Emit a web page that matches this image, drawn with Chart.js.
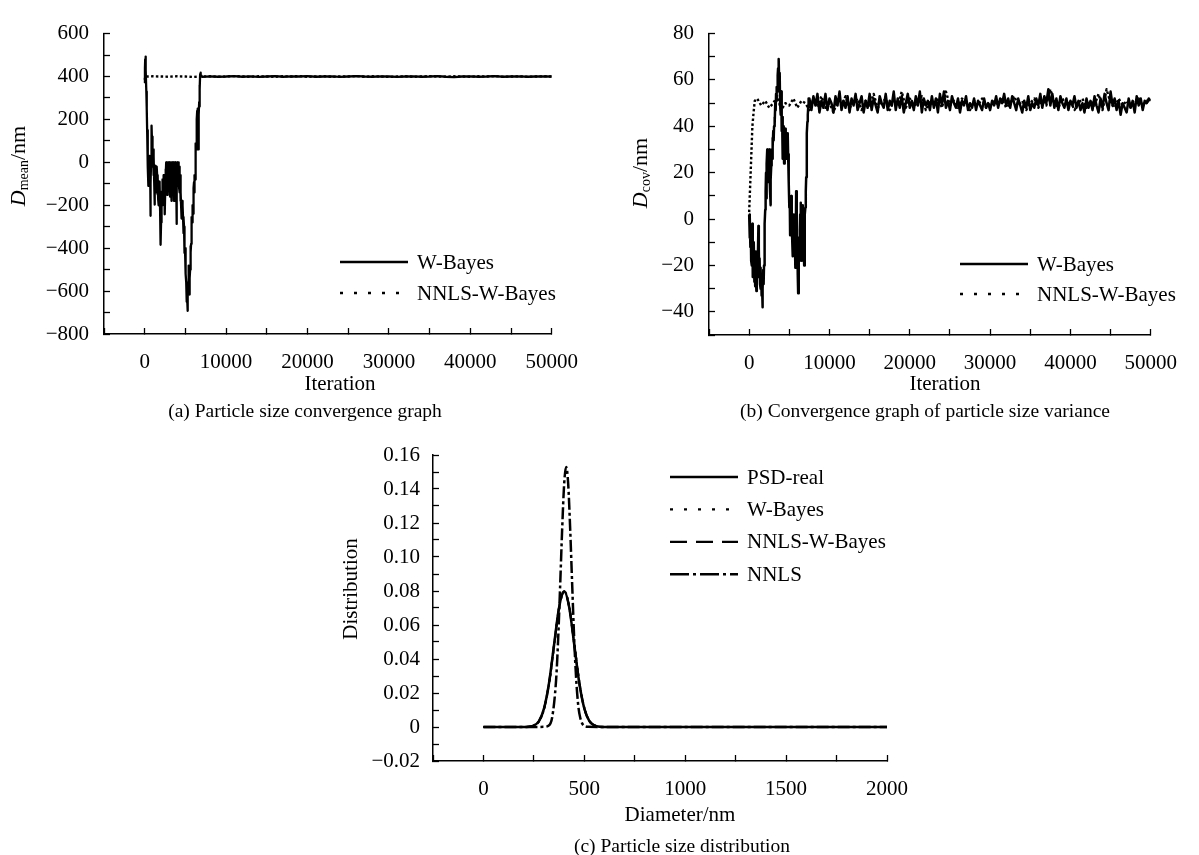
<!DOCTYPE html>
<html>
<head>
<meta charset="utf-8">
<script src="https://cdn.jsdelivr.net/npm/chart.js@4.4.1/dist/chart.umd.min.js"></script>
<style>
  body { margin: 0; background: #fff; width: 1199px; height: 855px; position: relative; overflow: hidden; font-family: "Liberation Serif", serif; }
  canvas { position: absolute; }
  .cap { position: absolute; font-size: 19.5px; color: #000; white-space: nowrap; transform: translate(-50%, -50%); }
</style>
</head>
<body>
<canvas id="chartA" width="600" height="400" style="left:0;top:0"></canvas>
<canvas id="chartB" width="599" height="400" style="left:600px;top:0"></canvas>
<canvas id="chartC" width="600" height="435" style="left:330px;top:420px"></canvas>
<div class="cap" style="left:305px;top:411px">(a) Particle size convergence graph</div>
<div class="cap" style="left:925px;top:411px">(b) Convergence graph of particle size variance</div>
<div class="cap" style="left:682px;top:846px">(c) Particle size distribution</div>
<script>
// ---- (a) mean diameter vs iteration ----
// first iterations (irregular spacing)
const iterAHead = [0, 30, 60, 90, 120, 150, 200, 250, 300, 350, 400, 450];
const meanWBayesHead = [370, 440, 480, 493, 470, 430, 330, 250, 150, 60, -20, -110];
// oscillating phase, one reading every 30 iterations from 480 to 6810
const denseStartA = 480, denseStepA = 30;
const meanWBayesDense = [
  -20, 20, -80, -30, -60, 30, 10, -249, -150, -100,
  0, 80, 20, 171, 90, 120, 40, -20, 60, 43,
  -30, -60, 30, -100, -60, -197, -80, -17, -100, -130,
  -40, -60, -140, -107, -20, -60, -150, -90, -60, -170,
  -200, -110, -140, -90, -190, -170, -100, -220, -300, -200,
  -384, -280, -250, -137, -180, -200, -110, -80, -170, -150,
  -60, -120, -180, -100, -60, -170, -130, -242, -130, -32,
  -110, -60, 0, -120, -40, 0, -152, -60, 0, -90,
  -20, 0, -135, -30, 0, -100, -10, 0, -160, -50,
  0, -80, -120, 0, -60, -180, -20, 0, -140, -40,
  0, -100, -60, 0, -180, -90, 0, -110, -30, 0,
  -130, -20, 0, -90, -160, -287, -60, 0, -110, -30,
  0, -90, -20, 0, -70, -120, -60, -20, -140, -60,
  -100, -180, -140, -200, -262, -220, -250, -180, -255, -240,
  -200, -260, -255, -330, -260, -300, -380, -330, -422, -400,
  -440, -481, -460, -520, -560, -600, -580, -650, -640, -692,
  -670, -620, -560, -500, -481, -520, -580, -616, -590, -540,
  -500, -460, -391, -420, -380, -300, -340, -255, -280, -240,
  -255, -200, -240, -160, -200, -120, -92, -140, -110, -60,
  -80, -20, 40, 10, 88, 60, 150, 100, 200, 240,
  200, 160, 250, 60, 120, 100, 220, 280, 260, 360,
  340, 411];
const iterARise = [6850, 6900, 6950, 7100];
const meanWBayesRise = [418, 408, 404, 398];
// after convergence, every 1000 iterations from 8000
const tailStartA = 8000, tailStepA = 1000;
const meanWBayesTail = [401, 399, 400, 402, 399, 401, 398, 400, 402, 399,
  401, 400, 402, 399, 400, 401, 398, 400, 402, 400,
  399, 401, 400, 398, 400, 401, 399, 400, 402, 399,
  397, 400, 401, 399, 400, 402, 399, 400, 401, 399,
  400, 401, 400];
const iterANNLS = [0, 100, 300];
const meanNNLSHead = [385, 403, 400];
const nnlsStartA = 1000, nnlsStepA = 1000;
const meanNNLSTail = [401, 400, 399, 401, 400, 398, 400, 401, 399, 400,
  402, 400, 399, 401, 400, 399, 401, 400, 402, 399,
  400, 401, 399, 400, 400, 402, 399, 401, 400, 398,
  400, 401, 399, 400, 402, 400, 399, 401, 400, 399,
  401, 400, 402, 399, 400, 401, 399, 400, 401, 400];

// ---- (b) variance vs iteration ----
// W-Bayes, every 50 iterations from 0 to 7400
const earlyStepB = 50;
const covWBayesEarly = [
  2, -8, 1, -12, -4, -18, -6, -20, -2, -25,
  -12, -22, -10, -27, -16, -29, -14, -24, -31, -18,
  -25, -14, -18, -3, -12, -24, -17, -28, -21, -30,
  -24, -33, -28, -38, -30, -22, -28, -20, -10, -2,
  4, 12, 20, 9, 24, 30, 18, 29, 16, 24,
  30, 18, 12, 6, 17, 23, 30, 26, 35, 31,
  38, 34, 40, 44, 41, 50, 47, 54, 51, 57,
  55, 62, 65, 60, 69, 57, 63, 50, 45, 52,
  55, 38, 44, 26, 34, 40, 31, 24, 30, 36,
  39, 33, 28, 36, 26, 31, 37, 28, 22, 16,
  5, 9, -7, 4, -3, 10, 3, -8, -2, -16,
  -6, 2, -4, -12, -6, -21, -10, 12, 4, -14,
  -8, -24, -32, -26, -13, -18, -5, 2, 7, -6,
  -12, -18, -4, 3, 6, -8, -14, -20, -6, 2,
  5, 12, 18, 28, 37, 42, 45, 48, 52];
// W-Bayes, every 250 iterations from 7500 to 50000
const bandStartB = 7500, bandStepB = 250;
const covWBayesBand = [52, 47, 53, 49, 54, 46, 51, 48, 54, 47, 52, 50, 46, 53, 49, 55, 47, 51, 48, 53,
  46, 52, 49, 54, 47, 50, 53, 46, 51, 48, 54, 47, 52, 49, 46, 53, 50, 48, 54, 47,
  51, 49, 55, 47, 52, 48, 53, 46, 50, 54, 48, 51, 47, 53, 49, 55, 46, 52, 49, 51,
  47, 53, 48, 52, 46, 54, 49, 55, 48, 51, 47, 53, 50, 48, 52, 46, 51, 49, 53, 47,
  50, 48, 52, 47, 51, 49, 47, 52, 48, 50, 47, 51, 49, 53, 48, 52, 50, 54, 49, 52,
  48, 53, 50, 47, 52, 49, 46, 51, 48, 53, 47, 50, 48, 52, 49, 54, 48, 53, 50, 56,
  49, 54, 48, 52, 47, 53, 50, 48, 52, 47, 51, 49, 53, 48, 51, 47, 50, 46, 52, 48,
  51, 47, 53, 49, 46, 52, 48, 54, 50, 47, 55, 49, 52, 47, 51, 45, 50, 48, 46, 52,
  48, 51, 46, 53, 49, 52, 47, 51, 50, 52, 51];
const iterBNNLS = [0, 120, 250, 400, 550, 700];
const covNNLSHead = [3, 14, 26, 40, 46, 51];
const nnlsStartB = 1000, nnlsStepB = 500;
const covNNLSBand = [52, 49, 51, 48, 50, 53, 47, 50, 49, 52, 48, 51, 50, 47, 52, 49, 53, 48, 50, 46,
  51, 49, 53, 48, 50, 52, 47, 51, 49, 54, 48, 50, 52, 47, 51, 49, 55, 48, 52, 49,
  50, 53, 47, 51, 49, 52, 48, 55, 49, 51, 48, 52, 50, 47, 51, 49, 52, 48, 50, 51,
  49, 52, 48, 50, 53, 49, 51, 47, 50, 52, 48, 51, 49, 56, 50, 48, 52, 49, 51, 47,
  50, 52, 48, 51, 49, 54, 47, 56, 50, 48, 52, 49, 51, 48, 50, 52, 49, 51, 50];

// ---- (c) particle size distribution ----
const diam = [0, 100, 200, 225, 250, 275, 300, 325, 350, 375, 400, 425, 450, 475, 500, 525, 550, 575, 600,
  800, 1000, 1200, 1400, 1600, 1800, 2000];
const psdReal = [0, 0, 0, 0.0002, 0.0009, 0.0035, 0.0108, 0.0259, 0.0484, 0.0704, 0.0798, 0.0704, 0.0484, 0.0259, 0.0108, 0.0035, 0.0009, 0.0002, 0,
  0, 0, 0, 0, 0, 0, 0];
const psdWBayes = [0, 0, 0, 0.0001, 0.0008, 0.0033, 0.0104, 0.0252, 0.0478, 0.0702, 0.0800, 0.0710, 0.0492, 0.0266, 0.0112, 0.0036, 0.0009, 0.0001, 0,
  0, 0, 0, 0, 0, 0, 0];
const psdNNLSWBayes = [0, 0, 0, 0.0001, 0.0009, 0.0034, 0.0106, 0.0256, 0.0480, 0.0700, 0.0795, 0.0706, 0.0488, 0.0262, 0.0110, 0.0036, 0.0010, 0.0002, 0,
  0, 0, 0, 0, 0, 0, 0];
const diamNNLS = [0, 100, 200, 300, 320, 340, 360, 370, 380, 390, 400, 410, 420, 430, 440, 450, 460, 470, 480, 500, 520,
  600, 800, 1000, 1200, 1400, 1600, 1800, 2000];
const psdNNLS = [0, 0, 0, 0.0001, 0.0006, 0.0053, 0.0275, 0.051, 0.0826, 0.116, 0.143, 0.153, 0.143, 0.116, 0.083, 0.051, 0.0275, 0.0125, 0.0053, 0.0006, 0.0001,
  0, 0, 0, 0, 0, 0, 0, 0];

// ---- helpers ----
const FAMILY = '"Liberation Serif", "Times New Roman", serif';
Chart.defaults.font.family = FAMILY;
Chart.defaults.color = '#000';

const pairs = (xs, ys) => xs.map((x, i) => ({ x, y: ys[i] }));
const stepped = (start, step, ys) => ys.map((y, i) => ({ x: start + i * step, y }));
const minus = s => String(s).replace('-', '\u2212');

// axis titles with mixed fonts (italic D + subscript), drawn on the chart canvas
function axisLabel(id, cx, cy, parts, vertical) {
  return {
    id,
    afterDraw(chart) {
      const ctx = chart.ctx;
      ctx.save();
      ctx.translate(cx, cy);
      if (vertical) ctx.rotate(-Math.PI / 2);
      ctx.fillStyle = '#000';
      ctx.textBaseline = 'middle';
      ctx.textAlign = 'left';
      const fontOf = p => (p.italic ? 'italic ' : '') + p.size + 'px ' + FAMILY;
      let total = 0;
      parts.forEach(p => { ctx.font = fontOf(p); total += ctx.measureText(p.text).width; });
      let x = -total / 2;
      parts.forEach(p => {
        ctx.font = fontOf(p);
        ctx.fillText(p.text, x, p.dy || 0);
        x += ctx.measureText(p.text).width;
      });
      ctx.restore();
    }
  };
}

function innerLegend(x0, y0, rowGap, dashes) {
  return {
    id: 'innerLegend',
    afterDraw(chart) {
      const ctx = chart.ctx;
      ctx.save();
      ctx.font = '21px ' + FAMILY;
      ctx.textBaseline = 'middle';
      ctx.textAlign = 'left';
      chart.data.datasets.forEach((ds, i) => {
        const y = y0 + i * rowGap;
        ctx.strokeStyle = '#000';
        ctx.lineWidth = ds.borderWidth;
        ctx.lineCap = 'butt';
        ctx.setLineDash(dashes[i]);
        ctx.beginPath();
        ctx.moveTo(x0, y);
        ctx.lineTo(x0 + 68, y);
        ctx.stroke();
        ctx.setLineDash([]);
        ctx.fillStyle = '#000';
        ctx.fillText(ds.label, x0 + 77, y + 1);
      });
      ctx.restore();
    }
  };
}

function axisX(min, max, step, major, boxH) {
  return {
    type: 'linear', min, max,
    border: { display: true, color: '#000', width: 1.5 },
    grid: { display: true, drawOnChartArea: false, drawTicks: true, tickLength: -6, tickColor: '#000', tickWidth: 1.3 },
    ticks: {
      stepSize: step, autoSkip: false, maxRotation: 0, padding: 22, color: '#000',
      font: { size: 21, family: FAMILY },
      callback: v => (Math.round(v) % major === 0 ? minus(v) : '')
    },
    title: { display: false },
    afterFit: s => { s.height = boxH; }
  };
}

function axisY(min, max, step, fmt, width, pad) {
  return {
    type: 'linear', min, max,
    border: { display: true, color: '#000', width: 1.5 },
    grid: { display: true, drawOnChartArea: false, drawTicks: true, tickLength: -6, tickColor: '#000', tickWidth: 1.3 },
    ticks: { stepSize: step, autoSkip: false, padding: pad, color: '#000', font: { size: 21, family: FAMILY }, callback: fmt },
    afterFit: s => { s.width = width; }
  };
}

const baseOpts = {
  responsive: false,
  animation: false,
  events: [],
  plugins: { legend: { display: false }, tooltip: { enabled: false } },
  elements: { point: { radius: 0 }, line: { tension: 0, borderColor: '#000', borderCapStyle: 'butt', borderJoinStyle: 'round' } }
};

// ---- chart (a) ----
const wBayesA = pairs(iterAHead, meanWBayesHead)
  .concat(stepped(denseStartA, denseStepA, meanWBayesDense))
  .concat(pairs(iterARise, meanWBayesRise))
  .concat(stepped(tailStartA, tailStepA, meanWBayesTail));
const nnlsA = pairs(iterANNLS, meanNNLSHead).concat(stepped(nnlsStartA, nnlsStepA, meanNNLSTail));

new Chart(document.getElementById('chartA'), {
  type: 'line',
  data: {
    datasets: [
      { label: 'W-Bayes', data: wBayesA, borderColor: '#000', borderWidth: 2.3 },
      { label: 'NNLS-W-Bayes', data: nnlsA, borderColor: '#000', borderWidth: 2.4, borderDash: [2.5, 2.3] }
    ]
  },
  options: Object.assign({}, baseOpts, {
    layout: { padding: { top: 23, right: 43, bottom: 0, left: 0 } },
    scales: {
      x: axisX(-5000, 50000, 5000, 10000, 66),
      y: axisY(-800, 600, 100, v => (Math.round(v) % 200 === 0 ? minus(v) : ''), 104, 21)
    }
  }),
  plugins: [
    axisLabel('yTitleA', 19, 166, [{ text: 'D', italic: true, size: 22 }, { text: 'mean', size: 14, dy: 5 }, { text: '/nm', size: 22 }], true),
    axisLabel('xTitleA', 340, 384, [{ text: 'Iteration', size: 21 }], false),
    innerLegend(340, 262, 31, [[], [3, 11]])
  ]
});

// ---- chart (b) ----
const wBayesB = stepped(0, earlyStepB, covWBayesEarly).concat(stepped(bandStartB, bandStepB, covWBayesBand));
const nnlsB = pairs(iterBNNLS, covNNLSHead).concat(stepped(nnlsStartB, nnlsStepB, covNNLSBand));

new Chart(document.getElementById('chartB'), {
  type: 'line',
  data: {
    datasets: [
      { label: 'W-Bayes', data: wBayesB, borderColor: '#000', borderWidth: 2.5 },
      { label: 'NNLS-W-Bayes', data: nnlsB, borderColor: '#000', borderWidth: 2.4, borderDash: [2.5, 2.3] }
    ]
  },
  options: Object.assign({}, baseOpts, {
    layout: { padding: { top: 23, right: 38, bottom: 0, left: 0 } },
    scales: {
      x: axisX(-5000, 50000, 5000, 10000, 65),
      y: axisY(-50, 80, 10, v => (Math.round(v) % 20 === 0 ? minus(v) : ''), 109, 21)
    }
  }),
  plugins: [
    axisLabel('yTitleB', 41, 173, [{ text: 'D', italic: true, size: 22 }, { text: 'cov', size: 14, dy: 5 }, { text: '/nm', size: 22 }], true),
    axisLabel('xTitleB', 345, 384, [{ text: 'Iteration', size: 21 }], false),
    innerLegend(360, 264, 30, [[], [3, 11]])
  ]
});

// ---- chart (c) ----
new Chart(document.getElementById('chartC'), {
  type: 'line',
  data: {
    datasets: [
      { label: 'PSD-real', data: pairs(diam, psdReal), borderColor: '#000', borderWidth: 2.5, cubicInterpolationMode: 'monotone' },
      { label: 'W-Bayes', data: pairs(diam, psdWBayes), borderColor: '#000', borderWidth: 2.2, borderDash: [2.5, 3], cubicInterpolationMode: 'monotone' },
      { label: 'NNLS-W-Bayes', data: pairs(diam, psdNNLSWBayes), borderColor: '#000', borderWidth: 2.2, borderDash: [9, 5], cubicInterpolationMode: 'monotone' },
      { label: 'NNLS', data: pairs(diamNNLS, psdNNLS), borderColor: '#000', borderWidth: 2.5, borderDash: [12, 3, 3, 3], cubicInterpolationMode: 'monotone' }
    ]
  },
  options: Object.assign({}, baseOpts, {
    layout: { padding: { top: 35, right: 37, bottom: 0, left: 0 } },
    scales: {
      x: axisX(-250, 2000, 250, 500, 94),
      y: axisY(-0.02, 0.16, 0.01, v => {
        const r = Math.round(v * 100);
        if (r % 2 !== 0) return '';
        return r === 0 ? '0' : minus((r / 100).toFixed(2));
      }, 103, 19)
    }
  }),
  plugins: [
    axisLabel('yTitleC', 21, 169, [{ text: 'Distribution', size: 21 }], true),
    axisLabel('xTitleC', 350, 395, [{ text: 'Diameter/nm', size: 21 }], false),
    innerLegend(340, 57, 32.4, [[], [3, 11], [17, 9], [19, 4, 3, 4]])
  ]
});
</script>
</body>
</html>
